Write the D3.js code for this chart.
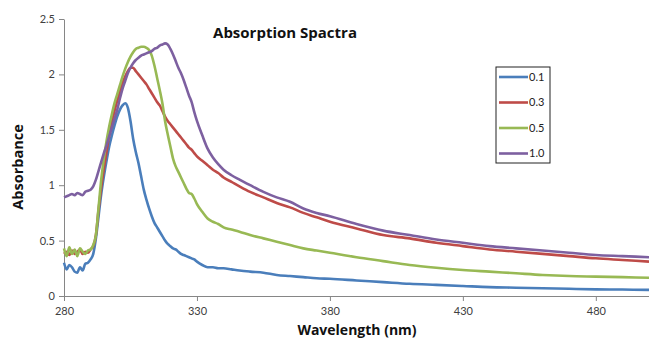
<!DOCTYPE html>
<html>
<head>
<meta charset="utf-8">
<script src="https://cdn.jsdelivr.net/npm/d3@7"></script>
<style>
  html, body { margin: 0; padding: 0; background: #fff; }
  svg { display: block; font-family: Lato, "Open Sans", sans-serif; }
</style>
</head>
<body>
<div id="chart"></div>
<script>
const wavelengths = [280,281,282,283,284,285,286,287,288,289,290,291,292,293,294,295,296,297,298,299,
  300,301,302,303,304,305,306,307,308,309,310,311,312,313,314,315,316,317,318,319,
  320,321,322,323,324,325,326,327,328,329,330,332,334,336,338,340,343,346,350,355,
  360,365,370,375,380,390,400,410,420,430,440,450,460,470,480,490,500];

const series01 = [0.30,0.24,0.28,0.26,0.22,0.21,0.26,0.23,0.29,0.30,0.33,0.38,0.52,0.72,0.92,1.08,1.22,1.35,1.45,1.54,
  1.62,1.68,1.72,1.74,1.70,1.58,1.42,1.30,1.20,1.08,0.96,0.87,0.79,0.72,0.66,0.62,0.58,0.54,0.50,0.47,
  0.45,0.43,0.42,0.40,0.38,0.37,0.36,0.35,0.34,0.33,0.31,0.28,0.26,0.26,0.25,0.25,0.24,0.23,0.22,0.21,
  0.19,0.18,0.17,0.16,0.155,0.14,0.125,0.11,0.10,0.09,0.08,0.075,0.07,0.065,0.06,0.058,0.055];

const series03 = [0.38,0.40,0.37,0.41,0.38,0.40,0.42,0.38,0.40,0.39,0.42,0.45,0.55,0.78,0.98,1.15,1.30,1.45,1.57,1.67,
  1.76,1.84,1.92,1.98,2.03,2.06,2.06,2.03,2.00,1.97,1.94,1.91,1.87,1.83,1.79,1.75,1.72,1.67,1.62,1.58,
  1.55,1.52,1.49,1.46,1.43,1.40,1.37,1.34,1.32,1.29,1.26,1.22,1.18,1.14,1.11,1.07,1.03,0.99,0.94,0.89,
  0.84,0.80,0.75,0.71,0.67,0.61,0.55,0.52,0.48,0.45,0.42,0.40,0.38,0.36,0.34,0.325,0.31];

const series05 = [0.43,0.36,0.44,0.38,0.42,0.36,0.43,0.40,0.38,0.41,0.42,0.46,0.55,0.80,1.05,1.24,1.40,1.53,1.64,1.74,
  1.82,1.90,1.98,2.05,2.11,2.16,2.20,2.23,2.24,2.25,2.25,2.24,2.22,2.17,2.08,1.97,1.86,1.74,1.58,1.46,
  1.35,1.24,1.17,1.12,1.07,1.02,0.97,0.93,0.92,0.88,0.83,0.76,0.70,0.67,0.65,0.62,0.60,0.58,0.55,0.52,
  0.49,0.46,0.43,0.41,0.39,0.35,0.315,0.28,0.255,0.235,0.22,0.205,0.19,0.18,0.175,0.17,0.165];

const series10 = [0.89,0.90,0.91,0.92,0.91,0.93,0.92,0.91,0.94,0.95,0.96,0.99,1.05,1.13,1.21,1.29,1.36,1.44,1.52,1.60,
  1.68,1.78,1.87,1.94,2.01,2.06,2.10,2.13,2.15,2.17,2.18,2.19,2.20,2.21,2.23,2.24,2.26,2.27,2.28,2.27,
  2.23,2.18,2.12,2.06,2.01,1.95,1.88,1.81,1.75,1.66,1.58,1.45,1.33,1.25,1.19,1.14,1.09,1.05,1.00,0.94,
  0.89,0.85,0.79,0.75,0.72,0.65,0.59,0.55,0.51,0.48,0.45,0.43,0.41,0.39,0.37,0.36,0.35];

const seriesNames = ['0.1', '0.3', '0.5', '1.0'];
const seriesValues = [series01, series03, series05, series10];
const seriesColors = ['#4a7ebb', '#be4b48', '#98b954', '#7d60a0'];

const xTicks = [280, 330, 380, 430, 480];
const yTicks = [0, 0.5, 1, 1.5, 2, 2.5];

const width = 649;
const height = 345;
const margin = { top: 19, right: 0, bottom: 49, left: 64 };
const axisColor = '#868686';
const titleFont = '"Open Sans", Lato, sans-serif';

const svg = d3.select('#chart').append('svg')
  .attr('width', width)
  .attr('height', height);

const x = d3.scaleLinear()
  .domain([280, 500])
  .range([margin.left, width - margin.right]);

const y = d3.scaleLinear()
  .domain([0, 2.5])
  .range([height - margin.bottom, margin.top]);

// axes
const xAxis = svg.append('g')
  .attr('transform', 'translate(0,' + y(0) + ')')
  .call(d3.axisBottom(x).tickValues(xTicks).tickSize(5).tickSizeOuter(0).tickPadding(6));

const yAxis = svg.append('g')
  .attr('transform', 'translate(' + x(280) + ',0)')
  .call(d3.axisLeft(y).tickValues(yTicks).tickSize(5).tickSizeOuter(0).tickPadding(4)
    .tickFormat(d3.format('')));

[xAxis, yAxis].forEach((axis) => {
  axis.select('.domain').attr('stroke', axisColor);
  axis.selectAll('.tick line').attr('stroke', axisColor);
  axis.selectAll('.tick text')
    .attr('fill', '#404040')
    .style('font-size', '11px')
    .style('font-family', 'Lato, "Open Sans", sans-serif');
});

// lines
const line = d3.line()
  .x((d, i) => x(wavelengths[i]))
  .y((d) => y(d))
  .curve(d3.curveMonotoneX);

seriesValues.forEach((values, index) => {
  svg.append('path')
    .datum(values)
    .attr('fill', 'none')
    .attr('stroke', seriesColors[index])
    .attr('stroke-width', 2.6)
    .attr('stroke-linejoin', 'round')
    .attr('d', line);
});

// titles
svg.append('text')
  .attr('x', 285)
  .attr('y', 38)
  .attr('text-anchor', 'middle')
  .style('font-family', titleFont)
  .style('font-size', '15px')
  .style('font-weight', 'bold')
  .attr('fill', '#111')
  .text('Absorption Spactra');

svg.append('text')
  .attr('transform', 'translate(23,167) rotate(-90)')
  .attr('text-anchor', 'middle')
  .style('font-family', titleFont)
  .style('font-size', '14.5px')
  .style('font-weight', 'bold')
  .attr('fill', '#111')
  .text('Absorbance');

svg.append('text')
  .attr('x', 357)
  .attr('y', 335)
  .attr('text-anchor', 'middle')
  .style('font-family', titleFont)
  .style('font-size', '14px')
  .style('font-weight', 'bold')
  .attr('fill', '#111')
  .text('Wavelength (nm)');

// legend
const legend = svg.append('g')
  .attr('transform', 'translate(496,67)');

legend.append('rect')
  .attr('width', 54)
  .attr('height', 96)
  .attr('fill', '#fff')
  .attr('stroke', '#222')
  .attr('stroke-width', 1);

seriesNames.forEach((name, index) => {
  const row = legend.append('g')
    .attr('transform', 'translate(0,' + (10 + index * 25.5) + ')');
  row.append('line')
    .attr('x1', 3)
    .attr('x2', 32)
    .attr('stroke', seriesColors[index])
    .attr('stroke-width', 2.6);
  row.append('text')
    .attr('x', 33)
    .attr('dy', '0.35em')
    .style('font-size', '11px')
    .attr('fill', '#222')
    .text(name);
});
</script>
</body>
</html>
